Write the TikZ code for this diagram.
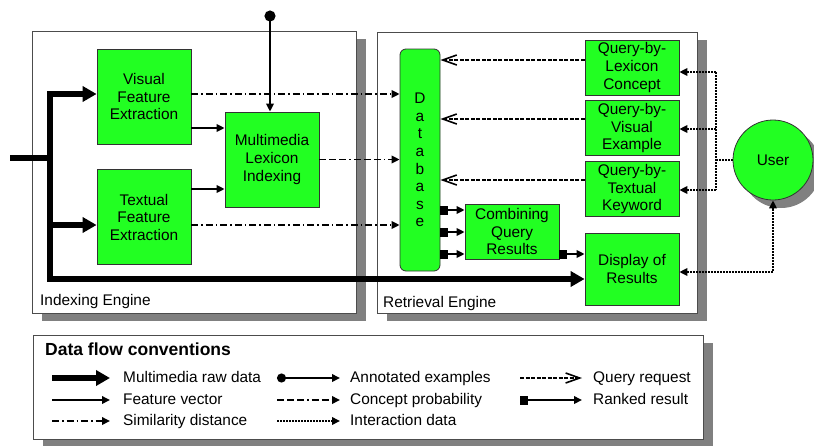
\documentclass[tikz,border=0pt]{standalone}
\usepackage{fontspec}
\setmainfont{Liberation Sans}
\usetikzlibrary{arrows.meta, shadows, positioning}
\definecolor{boxgreen}{RGB}{34,255,34}
\tikzset{%
>={Triangle[length=8pt,width=7.5pt]},
  % Specifications for style of nodes:
            proc/.style = {rectangle, draw=black!80, line width=0.8pt,
                            fill=boxgreen, minimum width=94pt, minimum
                            height=55pt, align=center, inner sep=1pt},
            dbase/.style = {proc, rounded corners=6pt, minimum width=40pt,
                            minimum height=222pt},
            usr/.style = {circle, draw=black!80, line width=0.8pt, fill=boxgreen,
                            minimum size=80pt, drop shadow={shadow xshift=8pt,
                            shadow yshift=-8pt, fill=black!50, opacity=1}},
            engine/.style = {rectangle, draw=black!70, line width=0.8pt, fill=white,
                            drop shadow={shadow xshift=10pt, shadow yshift=-8pt,
                            fill=black!50, opacity=1}},
            caption/.style = {anchor=west, inner sep=0pt, text height=11pt,
                            text depth=3pt},
  % Specifications for style of lines:
            raw/.style = {line width=5.5pt},
            rawarrow/.style = {raw, -{Triangle[length=14pt,width=15pt]}},
            feature/.style = {line width=1.9pt, ->},
            annot/.style = {line width=1.9pt, {Circle[length=11pt]}->},
            simil/.style = {line width=1.9pt, ->, dash pattern=on 7pt off 3pt on 1.5pt off 3pt},
            concept/.style = {line width=1.9pt, ->, dash pattern=on 7pt off 3pt on 7pt off 3pt
                            on 7pt off 3pt on 1.5pt off 3pt},
            inter/.style = {line width=1.9pt, dash pattern=on 2pt off 1pt},
            query/.style = {line width=1.6pt, dash pattern=on 4pt off 1.5pt,
                            -{Straight Barb[length=14pt,width=10pt]}},
            ranked/.style = {line width=1.9pt, {Square[length=8pt,width=9pt]}->}
}
\begin{document}
\begin{tikzpicture}[x=1pt, y=-1pt, font=\fontsize{15.4}{17.6}\selectfont]
\useasboundingbox (0,0) rectangle (814,445);

% frames
\node[engine, minimum width=324pt, minimum height=282pt] (ie) at (194,172) {};
\node[engine, minimum width=320pt, minimum height=281pt] (re) at (537,172.5) {};
\node[engine, minimum width=670pt, minimum height=104pt] (lg) at (368,387) {};
\node[caption] (iel) at (40,301) {Indexing Engine};
\node[caption] (rel) at (383,303) {Retrieval Engine};

% indexing side
\node[proc, minimum height=95pt] (vfe) at (144,96.5) {Visual\\Feature\\Extraction};
\node[proc, minimum height=95pt, below=25pt of vfe] (tfe) {Textual\\Feature\\Extraction};
\node[proc, minimum height=95pt] (mli) at (272,159.5) {Multimedia\\Lexicon\\Indexing};

% retrieval side
\node[dbase] (db) at (420,160) {D\\a\\t\\a\\b\\a\\s\\e};
\node[proc] (qlc) at (632,67.5) {Query-by-\\Lexicon\\Concept};
\node[proc, below=5pt of qlc] (qve) {Query-by-\\Visual\\Example};
\node[proc, below=5pt of qve] (qtk) {Query-by-\\Textual\\Keyword};
\node[proc] (cqr) at (512,231.5) {Combining\\Query\\Results};
\node[proc, minimum height=72pt] (dor) at (632,269) {Display of\\Results};
\node[usr] (user) at (773,160) {User};

% raw data
\coordinate (in) at (10,158);
\coordinate (split) at (50,158);
\draw[raw] (in) -- (split);
\draw[rawarrow] (split) |- (vfe.west |- 0,94);
\draw[rawarrow] (split) |- (tfe.west |- 0,225);
\draw[rawarrow] (split) |- (dor.west |- 0,279);

\coordinate (ann) at (270,10.5);
\draw[annot] (ann) -- (ann |- mli.north);

\draw[feature] (vfe.east |- 0,128) -- (mli.west |- 0,128);
\draw[feature] (tfe.east |- 0,189) -- (mli.west |- 0,189);
\draw[simil] (vfe.east |- 0,94) -- (db.west |- 0,94);
\draw[simil] (tfe.east |- 0,225) -- (db.west |- 0,225);
\draw[concept] (mli.east) -- (db.west |- mli.east);

\draw[query] (qlc.west |- 0,60) -- (db.east |- 0,60);
\draw[query] (qve.west |- 0,119) -- (db.east |- 0,119);
\draw[query] (qtk.west |- 0,180) -- (db.east |- 0,180);

% user interaction
\coordinate (ub) at (716,160);
\draw[inter] (user.west) -- (ub);
\draw[inter] (ub |- 0,72) -- (ub |- 0,190);
\draw[inter, ->] (ub |- 0,72) -- (qlc.east |- 0,72);
\draw[inter, ->] (ub |- 0,129) -- (qve.east |- 0,129);
\draw[inter, ->] (ub |- 0,190) -- (qtk.east |- 0,190);
\draw[inter, <->] (dor.east |- 0,272) -| (user.south);

\draw[ranked] (db.east |- 0,210) -- (cqr.west |- 0,210);
\draw[ranked] (db.east |- 0,232) -- (cqr.west |- 0,232);
\draw[ranked] (db.east |- 0,254) -- (cqr.west |- 0,254);
\draw[ranked] (cqr.east |- 0,254) -- (dor.west |- 0,254);

% legend
\node[anchor=west, inner sep=0pt, font=\bfseries\fontsize{17.5}{20}\selectfont]
    (ltitle) at (45,349) {Data flow conventions};
\node[caption] (l1) at (123,378) {Multimedia raw data};
\node[caption] (l2) at (123,400) {Feature vector};
\node[caption] (l3) at (123,421) {Similarity distance};
\node[caption] (l4) at (350,378) {Annotated examples};
\node[caption] (l5) at (350,400) {Concept probability};
\node[caption] (l6) at (350,421) {Interaction data};
\node[caption] (l7) at (593,378) {Query request};
\node[caption] (l8) at (593,400) {Ranked result};

\draw[rawarrow] ([xshift=-71pt]l1.west) -- ([xshift=-13pt]l1.west);
\draw[feature] ([xshift=-71pt]l2.west) -- ([xshift=-13pt]l2.west);
\draw[simil] ([xshift=-71pt]l3.west) -- ([xshift=-13pt]l3.west);
\draw[line width=1.9pt, {Circle[length=9pt]}->] ([xshift=-73pt]l4.west) -- ([xshift=-10pt]l4.west);
\draw[concept] ([xshift=-73pt]l5.west) -- ([xshift=-10pt]l5.west);
\draw[inter, ->] ([xshift=-73pt]l6.west) -- ([xshift=-10pt]l6.west);
\draw[query] ([xshift=-73pt]l7.west) -- ([xshift=-11pt]l7.west);
\draw[ranked] ([xshift=-73pt]l8.west) -- ([xshift=-11pt]l8.west);

\end{tikzpicture}
\end{document}
